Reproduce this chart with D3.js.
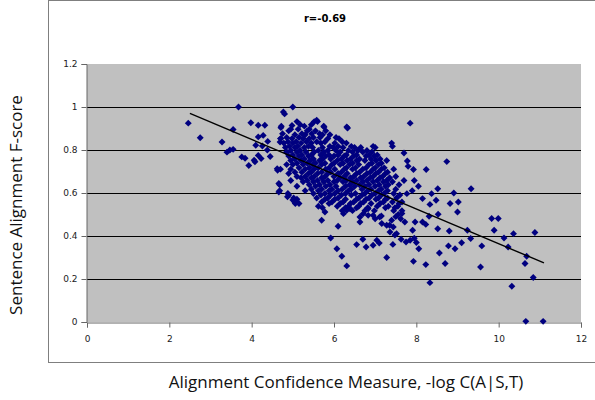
<!DOCTYPE html>
<html>
<head>
<meta charset="utf-8">
<script src="https://cdn.jsdelivr.net/npm/d3@7"></script>
<style>
  body { margin: 0; background: #fff; }
  svg { display: block; }
</style>
</head>
<body>
<svg width="595" height="400"></svg>
<script>
var svg = d3.select('svg');

// tick values
var xTicks = [0, 2, 4, 6, 8, 10, 12];
var yTicks = [0, 0.2, 0.4, 0.6, 0.8, 1, 1.2];
var gridVals = [0.2, 0.4, 0.6, 0.8, 1];

// trend line end points
var trendX = [2.5, 11.1];
var trendY = [0.97, 0.275];

// points, left side
var leftPts = [
  [2.46,0.925],[2.75,0.857],[3.28,0.837],[3.4,0.79],[3.47,0.80],[3.55,0.803],[3.55,0.895],
  [3.68,1.0],[3.76,0.768],[3.84,0.762],[3.93,0.728],[3.98,0.927],[4.06,0.752],[4.16,0.915],
  [4.16,0.861],[4.1,0.822],[4.26,0.819],[4.28,0.868],[4.32,0.915],[4.16,0.775],[4.23,0.76],
  [4.08,0.745],[4.39,0.84],[4.38,0.80],[4.45,0.77],[4.62,0.713],[4.63,0.706],[4.66,0.644],
  [4.66,0.605],[4.71,0.904],[4.77,0.977],[4.8,0.968],[4.71,0.853],[4.69,0.837],[4.85,0.79],
  [5.0,1.0],[4.98,0.914],[4.87,0.582],[5.06,0.551],[5.0,0.567]
];

// the dense cloud, one row per y value
var cloudRows = [
  [0.932, [5.1, 5.52, 5.6]],
  [0.918, [5.18, 5.45]],
  [0.911, [4.72, 5.28, 5.75]],
  [0.897, [4.95, 5.13, 5.4]],
  [0.889, [4.9, 5.35, 5.55, 5.8]],
  [0.876, [4.75, 5.22, 5.46, 5.65]],
  [0.871, [5.05, 5.3, 5.72, 5.9]],
  [0.858, [4.85, 5.15, 5.5, 5.66, 6.05]],
  [0.853, [4.7, 4.98, 5.25, 5.4, 5.85, 6.12]],
  [0.838, [4.88, 5.08, 5.33, 5.58, 5.78, 6.2]],
  [0.832, [4.78, 5.0, 5.2, 5.45, 5.68, 6.02, 6.3, 7.4]],
  [0.817, [4.92, 5.12, 5.38, 5.9, 6.1, 6.42, 6.95, 7.42]],
  [0.812, [4.82, 5.05, 5.28, 5.48, 5.72, 5.98, 6.22, 6.5, 6.65, 7.0]],
  [0.798, [4.95, 5.18, 5.62, 5.85, 6.05, 6.35, 6.58, 6.8]],
  [0.791, [4.85, 5.1, 5.32, 5.52, 5.75, 6.15, 6.45, 6.7, 6.92]],
  [0.777, [5.0, 5.22, 5.45, 5.68, 5.88, 6.1, 6.3, 6.55, 6.85, 7.05]],
  [0.772, [4.9, 5.15, 5.38, 5.8, 6.0, 6.25, 6.48, 6.78, 6.98]],
  [0.758, [5.05, 5.28, 5.5, 5.72, 5.92, 6.18, 6.4, 6.62, 6.9, 7.12]],
  [0.751, [4.95, 5.2, 5.42, 5.65, 6.08, 6.32, 6.55, 6.75, 7.02, 7.28]],
  [0.738, [5.1, 5.35, 5.55, 5.78, 6.0, 6.22, 6.45, 6.92, 7.15]],
  [0.732, [4.85, 5.0, 5.25, 5.48, 5.7, 5.95, 6.15, 6.38, 6.6, 6.85, 7.08]],
  [0.717, [5.15, 5.4, 5.62, 5.88, 6.3, 6.52, 6.78, 7.0, 7.22]],
  [0.711, [4.7, 4.95, 5.3, 5.52, 5.8, 6.02, 6.25, 6.45, 6.7, 6.95, 7.15, 7.45]],
  [0.697, [5.05, 5.22, 5.45, 5.7, 5.92, 6.18, 6.62, 6.88, 7.08, 7.3]],
  [0.691, [4.9, 5.38, 5.6, 5.85, 6.1, 6.32, 6.55, 6.8, 7.02, 7.25]],
  [0.677, [5.1, 5.3, 5.52, 5.78, 6.0, 6.25, 6.48, 6.72, 6.95, 7.18, 7.5]],
  [0.671, [5.2, 5.45, 5.7, 6.15, 6.4, 6.65, 6.88, 7.12, 7.35]],
  [0.658, [4.95, 5.35, 5.6, 5.85, 6.08, 6.3, 6.55, 6.8, 7.05, 7.28, 7.7, 7.95]],
  [0.652, [5.25, 5.5, 5.75, 6.0, 6.22, 6.45, 6.7, 6.95, 7.2, 7.42]],
  [0.638, [4.68, 5.4, 5.65, 5.9, 6.38, 6.62, 6.85, 7.1, 7.32, 7.58]],
  [0.631, [5.1, 5.55, 5.8, 6.05, 6.28, 6.5, 6.75, 7.0, 7.25, 8.05]],
  [0.618, [5.45, 5.7, 5.95, 6.2, 6.42, 6.68, 6.9, 7.15, 7.5]],
  [0.611, [4.68, 5.3, 5.62, 5.88, 6.1, 6.35, 6.82, 7.08, 7.3, 7.9]],
  [0.598, [4.88, 5.5, 5.78, 6.02, 6.28, 6.52, 6.75, 7.0, 7.22, 7.45]],
  [0.591, [4.9, 5.68, 5.92, 6.18, 6.42, 6.68, 6.92, 7.15, 7.6]],
  [0.577, [5.02, 5.58, 5.85, 6.1, 6.6, 6.85, 7.08, 7.3, 7.52]],
  [0.571, [5.1, 5.78, 6.02, 6.28, 6.55, 6.78, 7.02, 7.25]],
  [0.558, [5.05, 5.7, 5.95, 6.22, 6.48, 6.72, 7.2, 7.42, 7.65]],
  [0.551, [5.15, 5.88, 6.15, 6.4, 6.65, 6.9, 7.12, 7.58]],
  [0.538, [5.62, 6.08, 6.35, 6.6, 7.05, 7.32, 7.55]],
  [0.531, [5.72, 6.28, 6.55, 6.82, 7.25, 7.48]],
  [0.518, [6.2, 6.45, 6.75, 6.98, 7.45, 7.65]]
];

// scattered points above, right and below the cloud
var outerPts = [
  [5.58,0.938],[5.76,0.907],[6.31,0.907],[6.33,0.902],[7.85,0.925],[8.74,0.746],[8.24,0.709],
  [7.7,0.786],[7.78,0.749],[7.8,0.724],[7.93,0.709],
  [7.77,0.597],[8.37,0.597],[8.52,0.62],[8.91,0.6],[9.33,0.62],[8.15,0.574],[8.33,0.547],
  [8.48,0.566],[8.82,0.551],[9.02,0.558],[9.0,0.512],[8.53,0.501],[8.31,0.492],[7.97,0.465],
  [8.15,0.465],[8.23,0.454],[7.91,0.427],[8.52,0.434],[8.8,0.423],[9.83,0.481],[9.99,0.481],
  [9.89,0.427],[9.24,0.427],[9.32,0.388],[9.1,0.369],[8.94,0.341],[8.78,0.354],[9.59,0.354],
  [10.13,0.391],[10.36,0.411],[10.88,0.416],[10.23,0.349],[7.63,0.385],[7.75,0.372],
  [7.85,0.38],[7.95,0.39],[8.0,0.37],[8.06,0.341],[8.56,0.321],[7.93,0.282],[8.23,0.267],
  [8.7,0.272],[9.56,0.256],[10.64,0.272],[10.68,0.306],[10.84,0.207],[10.32,0.166],
  [8.33,0.183],[10.66,0.003],[11.08,0.003],
  [5.7,0.473],[5.78,0.512],[6.1,0.445],[5.92,0.391],[6.07,0.341],[6.19,0.306],[6.31,0.261],
  [6.55,0.36],[6.7,0.385],[6.78,0.349],[6.95,0.357],[7.04,0.38],[7.1,0.367],[7.28,0.3],
  [7.43,0.361],[6.23,0.504],[6.31,0.52],[6.39,0.527],[6.63,0.488],[6.71,0.504],[6.83,0.496],
  [7.11,0.488],[7.28,0.45],[7.44,0.442],[7.36,0.419],[7.52,0.411],[7.16,0.458],[7.4,0.473],
  [7.15,0.493],[6.95,0.496],[6.83,0.527],[6.63,0.465],[7.5,0.49],[7.62,0.48],[7.35,0.45],
  [7.56,0.5],[7.72,0.465],[7.48,0.405],[7.65,0.505],[7.0,0.48]
];

var points = leftPts.slice();
cloudRows.forEach(function(row){
    row[1].forEach(function(x){
        points.push([x, row[0]]);
    });
});
points = points.concat(outerPts);

var x = d3.scaleLinear().domain([0, 12]).range([87, 581]);
var y = d3.scaleLinear().domain([0, 1.2]).range([322, 64]);

// chart frame
svg.append('rect')
    .attr('x', 48.5).attr('y', 0.5)
    .attr('width', 560).attr('height', 362)
    .attr('fill', '#fff')
    .attr('stroke', '#7f7f7f');

// plot area
svg.append('rect')
    .attr('x', x(0)).attr('y', y(1.2))
    .attr('width', x(12) - x(0)).attr('height', y(0) - y(1.2))
    .attr('fill', '#c0c0c0');

svg.selectAll('.grid')
    .data(gridVals)
    .enter()
    .append('line')
    .attr('x1', x(0)).attr('x2', x(12))
    .attr('y1', function(d){ return Math.round(y(d)) + 0.5; })
    .attr('y2', function(d){ return Math.round(y(d)) + 0.5; })
    .attr('stroke', '#000')
    .attr('stroke-width', 1);

var tickFont = '"DejaVu Sans", Verdana, sans-serif';

var yAxis = svg.append('g')
    .attr('transform', 'translate(' + (x(0) - 0.5) + ',0)')
    .call(d3.axisLeft(y).tickValues(yTicks).tickSize(5).tickPadding(4)
        .tickFormat(function(d){ return d3.format('')(+d.toFixed(1)); }));
var xAxis = svg.append('g')
    .attr('transform', 'translate(0,' + (y(0) + 0.5) + ')')
    .call(d3.axisBottom(x).tickValues(xTicks).tickSize(5).tickPadding(8));

[xAxis, yAxis].forEach(function(g){
    g.select('.domain').attr('stroke', '#666');
    g.selectAll('.tick line').attr('stroke', '#666');
    g.selectAll('.tick text')
        .attr('fill', '#222')
        .style('font-family', tickFont)
        .style('font-size', '9px');
});

// markers
svg.selectAll('.pt')
    .data(points)
    .enter()
    .append('path')
    .attr('class', 'pt')
    .attr('d', d3.symbol(d3.symbolSquare, 24))
    .attr('transform', function(d){
        return 'translate(' + x(d[0]) + ',' + y(d[1]) + ') rotate(45)';
    })
    .attr('fill', '#000080');

// trend line on top of markers
svg.append('line')
    .attr('x1', x(trendX[0])).attr('y1', y(trendY[0]))
    .attr('x2', x(trendX[1])).attr('y2', y(trendY[1]))
    .attr('stroke', '#000')
    .attr('stroke-width', 1.4);

svg.append('text')
    .attr('x', 325).attr('y', 22)
    .attr('text-anchor', 'middle')
    .style('font-family', tickFont)
    .style('font-size', '10px')
    .style('font-weight', 'bold')
    .text('r=-0.69');

svg.append('text')
    .attr('transform', 'translate(22,205) rotate(-90)')
    .attr('text-anchor', 'middle')
    .style('font-family', '"Open Sans", sans-serif')
    .style('font-size', '17px')
    .attr('fill', '#111')
    .text('Sentence Alignment F-score');

svg.append('text')
    .attr('x', 346).attr('y', 388)
    .attr('text-anchor', 'middle')
    .style('font-family', '"Open Sans", sans-serif')
    .style('font-size', '17px')
    .attr('fill', '#111')
    .text('Alignment Confidence Measure, -log C(A|S,T)');
</script>
</body>
</html>
